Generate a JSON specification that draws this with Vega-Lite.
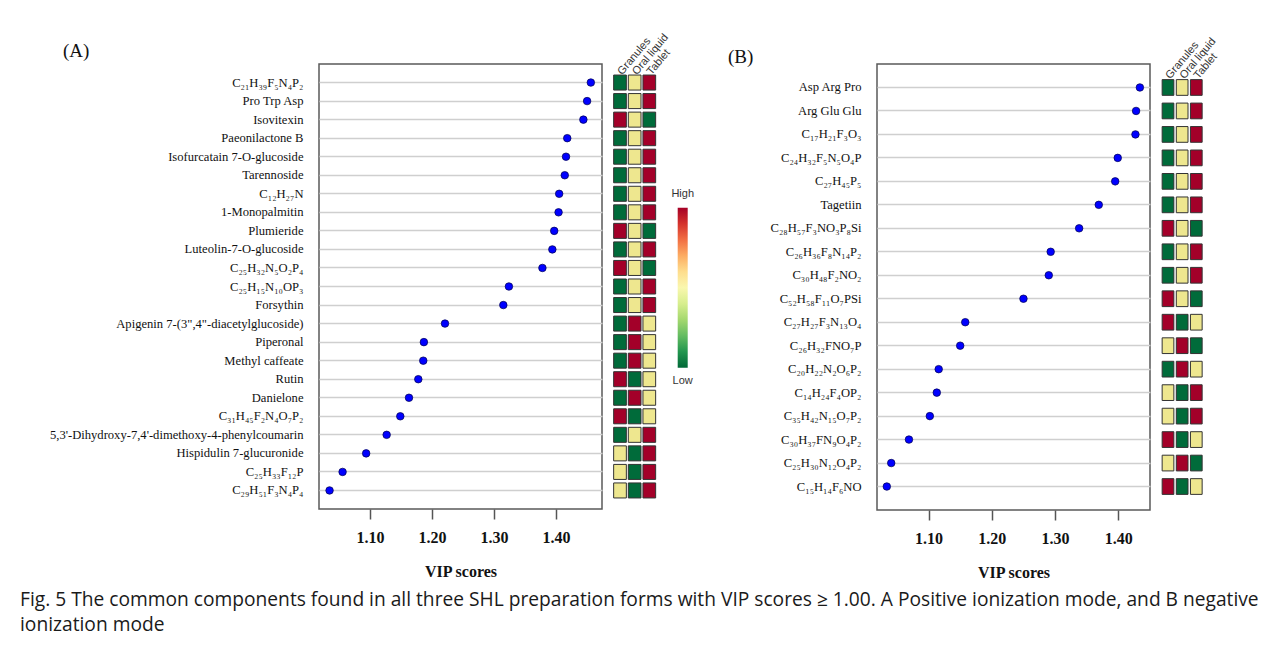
{
  "$schema": "https://vega.github.io/schema/vega-lite/v6.json",
  "background": "white",
  "padding": {"left": 20, "top": 30, "right": 5, "bottom": 5},
  "bounds": "flush",
  "spacing": 275,
  "config": {
    "view": {"stroke": "#5a5a5a", "strokeWidth": 1.5},
    "font": "Liberation Serif"
  },
  "title": {
    "text": ["Fig. 5  The common components found in all three SHL preparation forms with VIP scores ≥ 1.00. A Positive ionization mode, and B negative", "ionization mode"],
    "orient": "bottom", "anchor": "start", "frame": "group", "dx": -299, "offset": 10,
    "font": "Open Sans", "fontSize": 19.2, "fontWeight": "normal", "color": "#1a1a1a", "lineHeight": 25
  },
  "datasets": {
    "a": [
      {"compound": "C₂₁H₃₉F₅N₄P₂", "vip": 1.456, "Granules": "Low", "Oral liquid": "Mid", "Tablet": "High"},
      {"compound": "Pro Trp Asp", "vip": 1.450, "Granules": "Low", "Oral liquid": "Mid", "Tablet": "High"},
      {"compound": "Isovitexin", "vip": 1.444, "Granules": "High", "Oral liquid": "Mid", "Tablet": "Low"},
      {"compound": "Paeonilactone B", "vip": 1.418, "Granules": "Low", "Oral liquid": "Mid", "Tablet": "High"},
      {"compound": "Isofurcatain 7-O-glucoside", "vip": 1.416, "Granules": "Low", "Oral liquid": "Mid", "Tablet": "High"},
      {"compound": "Tarennoside", "vip": 1.414, "Granules": "Low", "Oral liquid": "Mid", "Tablet": "High"},
      {"compound": "C₁₂H₂₇N", "vip": 1.405, "Granules": "Low", "Oral liquid": "Mid", "Tablet": "High"},
      {"compound": "1-Monopalmitin", "vip": 1.404, "Granules": "Low", "Oral liquid": "Mid", "Tablet": "High"},
      {"compound": "Plumieride", "vip": 1.397, "Granules": "High", "Oral liquid": "Mid", "Tablet": "Low"},
      {"compound": "Luteolin-7-O-glucoside", "vip": 1.394, "Granules": "Low", "Oral liquid": "Mid", "Tablet": "High"},
      {"compound": "C₂₅H₃₂N₅O₂P₄", "vip": 1.378, "Granules": "High", "Oral liquid": "Mid", "Tablet": "Low"},
      {"compound": "C₂₅H₁₅N₁₀OP₃", "vip": 1.324, "Granules": "Low", "Oral liquid": "Mid", "Tablet": "High"},
      {"compound": "Forsythin", "vip": 1.315, "Granules": "Low", "Oral liquid": "Mid", "Tablet": "High"},
      {"compound": "Apigenin 7-(3\",4\"-diacetylglucoside)", "vip": 1.221, "Granules": "Low", "Oral liquid": "High", "Tablet": "Mid"},
      {"compound": "Piperonal", "vip": 1.187, "Granules": "Low", "Oral liquid": "High", "Tablet": "Mid"},
      {"compound": "Methyl caffeate", "vip": 1.186, "Granules": "Low", "Oral liquid": "High", "Tablet": "Mid"},
      {"compound": "Rutin", "vip": 1.178, "Granules": "High", "Oral liquid": "Low", "Tablet": "Mid"},
      {"compound": "Danielone", "vip": 1.163, "Granules": "Low", "Oral liquid": "High", "Tablet": "Mid"},
      {"compound": "C₃₁H₄₅F₂N₄O₇P₂", "vip": 1.149, "Granules": "High", "Oral liquid": "Low", "Tablet": "Mid"},
      {"compound": "5,3'-Dihydroxy-7,4'-dimethoxy-4-phenylcoumarin", "vip": 1.127, "Granules": "Low", "Oral liquid": "Mid", "Tablet": "High"},
      {"compound": "Hispidulin 7-glucuronide", "vip": 1.094, "Granules": "Mid", "Oral liquid": "Low", "Tablet": "High"},
      {"compound": "C₂₅H₃₃F₁₂P", "vip": 1.056, "Granules": "Mid", "Oral liquid": "Low", "Tablet": "High"},
      {"compound": "C₂₉H₅₁F₃N₄P₄", "vip": 1.035, "Granules": "Mid", "Oral liquid": "Low", "Tablet": "High"}
    ],
    "b": [
      {"compound": "Asp Arg Pro", "vip": 1.434, "Granules": "Low", "Oral liquid": "Mid", "Tablet": "High"},
      {"compound": "Arg Glu Glu", "vip": 1.428, "Granules": "Low", "Oral liquid": "Mid", "Tablet": "High"},
      {"compound": "C₁₇H₂₁F₃O₃", "vip": 1.427, "Granules": "Low", "Oral liquid": "Mid", "Tablet": "High"},
      {"compound": "C₂₄H₃₂F₅N₅O₄P", "vip": 1.399, "Granules": "Low", "Oral liquid": "Mid", "Tablet": "High"},
      {"compound": "C₂₇H₄₅P₅", "vip": 1.395, "Granules": "Low", "Oral liquid": "Mid", "Tablet": "High"},
      {"compound": "Tagetiin", "vip": 1.369, "Granules": "Low", "Oral liquid": "Mid", "Tablet": "High"},
      {"compound": "C₂₈H₅₇F₃NO₃P₈Si", "vip": 1.338, "Granules": "High", "Oral liquid": "Mid", "Tablet": "Low"},
      {"compound": "C₂₆H₃₆F₈N₁₄P₂", "vip": 1.293, "Granules": "Low", "Oral liquid": "Mid", "Tablet": "High"},
      {"compound": "C₃₀H₄₈F₂NO₂", "vip": 1.290, "Granules": "Low", "Oral liquid": "Mid", "Tablet": "High"},
      {"compound": "C₅₂H₅₈F₁₁O₇PSi", "vip": 1.250, "Granules": "High", "Oral liquid": "Mid", "Tablet": "Low"},
      {"compound": "C₂₇H₂₇F₃N₁₃O₄", "vip": 1.158, "Granules": "High", "Oral liquid": "Low", "Tablet": "Mid"},
      {"compound": "C₂₆H₃₂FNO₇P", "vip": 1.150, "Granules": "Mid", "Oral liquid": "High", "Tablet": "Low"},
      {"compound": "C₂₀H₂₂N₂O₆P₂", "vip": 1.116, "Granules": "Low", "Oral liquid": "High", "Tablet": "Mid"},
      {"compound": "C₁₄H₂₄F₄OP₂", "vip": 1.113, "Granules": "Mid", "Oral liquid": "Low", "Tablet": "High"},
      {"compound": "C₃₅H₄₂N₁₅O₇P₂", "vip": 1.102, "Granules": "Mid", "Oral liquid": "Low", "Tablet": "High"},
      {"compound": "C₃₀H₃₇FN₉O₄P₂", "vip": 1.069, "Granules": "High", "Oral liquid": "Low", "Tablet": "Mid"},
      {"compound": "C₂₅H₃₀N₁₂O₄P₂", "vip": 1.041, "Granules": "Mid", "Oral liquid": "High", "Tablet": "Low"},
      {"compound": "C₁₅H₁₄F₆NO", "vip": 1.034, "Granules": "High", "Oral liquid": "Low", "Tablet": "Mid"}
    ]
  },
  "hconcat": [
    {
      "width": 283, "height": 445,
      "data": {"name": "a"},
      "title": {"text": "(A)", "anchor": "start", "frame": "group", "dx": -256, "offset": -30, "font": "Liberation Serif", "fontSize": 19, "fontWeight": "normal", "color": "#111"},
      "encoding": {
        "y": {"field": "compound", "type": "nominal", "sort": null,
          "scale": {"type": "band", "paddingInner": 0, "paddingOuter": 0.5},
          "axis": {"title": null, "ticks": false, "domain": false, "labelFont": "Liberation Serif", "labelFontSize": 12.6, "labelColor": "#111", "labelPadding": 16, "labelLimit": 400, "grid": true, "gridColor": "#cfcfcf", "gridWidth": 1.3, "bandPosition": 0.5}}
      },
      "layer": [
        {
          "mark": {"type": "circle", "size": 57, "fill": "#0000ff", "stroke": "#00004d", "strokeWidth": 0.7, "opacity": 1},
          "encoding": {
            "x": {"field": "vip", "type": "quantitative",
              "scale": {"domain": [1.018, 1.474], "nice": false, "zero": false},
              "axis": {"values": [1.1, 1.2, 1.3, 1.4], "format": ".2f", "grid": false, "domain": false, "tickColor": "#555", "tickSize": 10, "tickWidth": 1.5, "labelFont": "Liberation Serif", "labelFontSize": 16, "labelFontWeight": "bold", "labelColor": "#111", "labelPadding": 10, "title": "VIP scores", "titleFont": "Liberation Serif", "titleFontSize": 16, "titleFontWeight": "bold", "titleColor": "#111", "titlePadding": 18}}
          }
        },
        {
          "transform": [{"fold": ["Granules", "Oral liquid", "Tablet"], "as": ["form", "level"]}],
          "mark": {"type": "rect", "stroke": "#333333", "strokeWidth": 1, "height": {"band": 0.81}},
          "encoding": {
            "x": {"field": "form", "type": "nominal",
              "scale": {"type": "band", "domain": ["Granules", "Oral liquid", "Tablet"], "range": [294.65, 336.65], "paddingInner": 0.133, "paddingOuter": 0},
              "axis": {"orient": "top", "title": null, "domain": false, "ticks": false, "grid": false, "labelAngle": -50, "labelAlign": "left", "labelBaseline": "middle", "labelFont": "Liberation Sans", "labelFontSize": 11, "labelColor": "#333", "labelPadding": 2, "offset": -11}},
            "fill": {"field": "level", "type": "nominal", "scale": {"domain": ["Low", "Mid", "High"], "range": ["#006b3a", "#eee78f", "#a30029"]}, "legend": null}
          }
        },
        {
          "mark": {"type": "point", "opacity": 0},
          "encoding": {
            "color": {"field": "vip", "type": "quantitative",
              "scale": {"domain": [0, 1], "scheme": "redyellowgreen", "reverse": true},
              "legend": {"orient": "none", "legendX": 358.7, "legendY": 143.7, "direction": "vertical", "title": null, "gradientLength": 160, "gradientThickness": 10, "gradientStrokeWidth": 0, "values": [0, 1], "labelExpr": "''", "labelOffset": 0}}
          }
        },
        {
          "mark": {"type": "point", "opacity": 0},
          "encoding": {
            "size": {"field": "vip", "type": "quantitative",
              "scale": {"domain": [0, 3]},
              "legend": {"orient": "none", "legendX": 352.4, "legendY": 123.7, "type": "symbol", "title": "High", "titleOrient": "top", "titleAnchor": "start", "titleFont": "Liberation Sans", "titleFontSize": 11, "titleFontWeight": "normal", "titleColor": "#333", "titlePadding": 0, "values": [1], "labelExpr": "''", "symbolOpacity": 0, "symbolStrokeWidth": 0}}
          }
        },
        {
          "mark": {"type": "point", "opacity": 0},
          "encoding": {
            "strokeWidth": {"field": "vip", "type": "quantitative",
              "scale": {"domain": [0, 4]},
              "legend": {"orient": "none", "legendX": 353.6, "legendY": 311, "type": "symbol", "title": "Low", "titleOrient": "top", "titleAnchor": "start", "titleFont": "Liberation Sans", "titleFontSize": 11, "titleFontWeight": "normal", "titleColor": "#333", "titlePadding": 0, "values": [1], "labelExpr": "''", "symbolOpacity": 0, "symbolStrokeWidth": 0}}
          }
        }
      ],
      "resolve": {"scale": {"x": "independent"}}
    },
    {
      "width": 273, "height": 446,
      "data": {"name": "b"},
      "title": {"text": "(B)", "anchor": "start", "frame": "group", "dx": -149, "offset": -32, "font": "Liberation Serif", "fontSize": 19, "fontWeight": "normal", "color": "#111"},
      "encoding": {
        "y": {"field": "compound", "type": "nominal", "sort": null,
          "scale": {"type": "band", "paddingInner": 0, "paddingOuter": 0.5},
          "axis": {"title": null, "ticks": false, "domain": false, "labelFont": "Liberation Serif", "labelFontSize": 12.6, "labelColor": "#111", "labelPadding": 16, "labelLimit": 400, "grid": true, "gridColor": "#cfcfcf", "gridWidth": 1.3, "bandPosition": 0.5}}
      },
      "layer": [
        {
          "mark": {"type": "circle", "size": 57, "fill": "#0000ff", "stroke": "#00004d", "strokeWidth": 0.7, "opacity": 1},
          "encoding": {
            "x": {"field": "vip", "type": "quantitative",
              "scale": {"domain": [1.0185, 1.45], "nice": false, "zero": false},
              "axis": {"values": [1.1, 1.2, 1.3, 1.4], "format": ".2f", "grid": false, "domain": false, "tickColor": "#555", "tickSize": 10, "tickWidth": 1.5, "labelFont": "Liberation Serif", "labelFontSize": 16, "labelFontWeight": "bold", "labelColor": "#111", "labelPadding": 10, "title": "VIP scores", "titleFont": "Liberation Serif", "titleFontSize": 16, "titleFontWeight": "bold", "titleColor": "#111", "titlePadding": 18}}
          }
        },
        {
          "transform": [{"fold": ["Granules", "Oral liquid", "Tablet"], "as": ["form", "level"]}],
          "mark": {"type": "rect", "stroke": "#333333", "strokeWidth": 1, "height": {"band": 0.67}},
          "encoding": {
            "x": {"field": "form", "type": "nominal",
              "scale": {"type": "band", "domain": ["Granules", "Oral liquid", "Tablet"], "range": [285.15, 325.15], "paddingInner": 0.173, "paddingOuter": 0},
              "axis": {"orient": "top", "title": null, "domain": false, "ticks": false, "grid": false, "labelAngle": -50, "labelAlign": "left", "labelBaseline": "middle", "labelFont": "Liberation Sans", "labelFontSize": 11, "labelColor": "#333", "labelPadding": 2, "offset": -15}},
            "fill": {"field": "level", "type": "nominal", "scale": {"domain": ["Low", "Mid", "High"], "range": ["#006b3a", "#eee78f", "#a30029"]}, "legend": null}
          }
        },
        {
          "mark": {"type": "point", "opacity": 0},
          "encoding": {
            "color": {"field": "vip", "type": "quantitative",
              "scale": {"domain": [0, 1], "scheme": "redyellowgreen", "reverse": true},
              "legend": {"orient": "none", "legendX": 363.3, "legendY": 143.7, "direction": "vertical", "title": null, "gradientLength": 160, "gradientThickness": 10, "gradientStrokeWidth": 0, "values": [0, 1], "labelExpr": "''", "labelOffset": 0}}
          }
        },
        {
          "mark": {"type": "point", "opacity": 0},
          "encoding": {
            "size": {"field": "vip", "type": "quantitative",
              "scale": {"domain": [0, 3]},
              "legend": {"orient": "none", "legendX": 357, "legendY": 123.7, "type": "symbol", "title": "High", "titleOrient": "top", "titleAnchor": "start", "titleFont": "Liberation Sans", "titleFontSize": 11, "titleFontWeight": "normal", "titleColor": "#333", "titlePadding": 0, "values": [1], "labelExpr": "''", "symbolOpacity": 0, "symbolStrokeWidth": 0}}
          }
        },
        {
          "mark": {"type": "point", "opacity": 0},
          "encoding": {
            "strokeWidth": {"field": "vip", "type": "quantitative",
              "scale": {"domain": [0, 4]},
              "legend": {"orient": "none", "legendX": 358.2, "legendY": 311, "type": "symbol", "title": "Low", "titleOrient": "top", "titleAnchor": "start", "titleFont": "Liberation Sans", "titleFontSize": 11, "titleFontWeight": "normal", "titleColor": "#333", "titlePadding": 0, "values": [1], "labelExpr": "''", "symbolOpacity": 0, "symbolStrokeWidth": 0}}
          }
        }
      ],
      "resolve": {"scale": {"x": "independent"}}
    }
  ]
}
